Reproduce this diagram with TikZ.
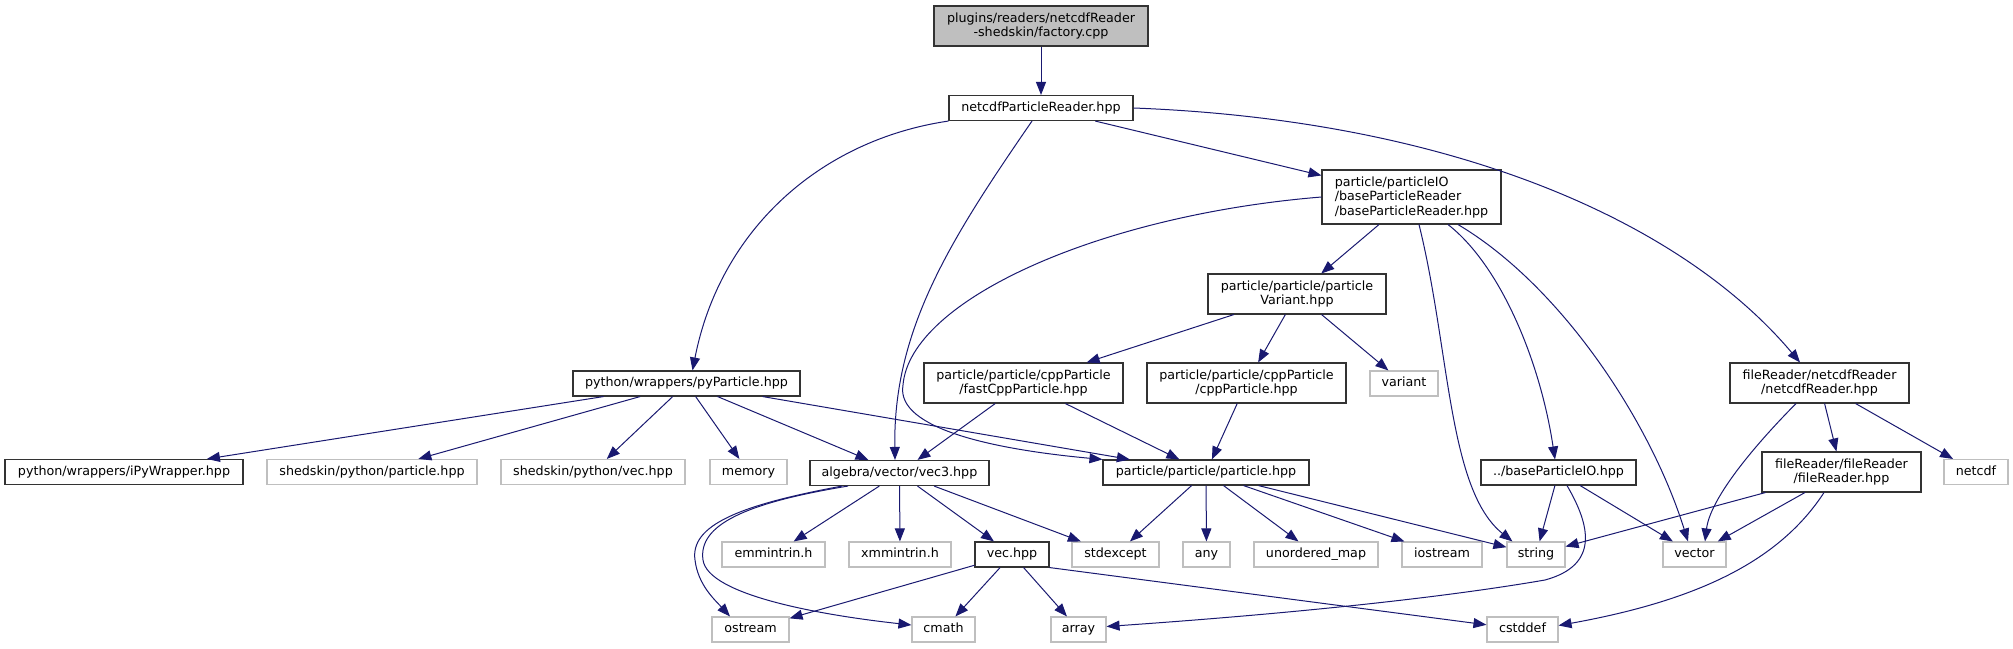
\documentclass[tikz,border=0pt]{standalone}
\usepackage{fontspec}
\setmainfont{DejaVu Sans}
\usepackage{tikz}
\usetikzlibrary{arrows.meta}

\definecolor{edgeblue}{HTML}{191970}
\definecolor{extgray}{HTML}{BFBFBF}

\tikzset{
  box/.style={draw=black!80, line width=1.1pt, inner sep=0pt, font=\fontsize{12.7}{14.5}\selectfont},
  file/.style={box, minimum height=25pt, text height=9.6pt, text depth=3pt},
  file2/.style={box, minimum height=40pt, align=center},
  ext/.style={file, draw=extgray},
  inc/.style={edgeblue, line width=1pt, -{Triangle[length=13pt,width=10pt]}}
}

\begin{document}
\begin{tikzpicture}[x=1pt, y=-1pt]
\useasboundingbox (0,0) rectangle (2013,648);

% Top files
\node[file2, fill=extgray, minimum width=214pt] (factory) at (1041,26) {plugins/readers/netcdfReader\\-shedskin/factory.cpp};
\node[file, minimum width=184pt] (ncpr) at (1041,108) {netcdfParticleReader.hpp};
\node[box, minimum width=179pt, minimum height=54pt, align=left] (bpr) at (1411.5,197) {particle/particleIO\\/baseParticleReader\\/baseParticleReader.hpp};
\node[file2, minimum width=178pt] (pv) at (1297,294) {particle/particle/particle\\Variant.hpp};

% Row 383
\node[file, minimum width=227pt] (pyp) at (686.5,383.5) {python/wrappers/pyParticle.hpp};
\node[file2, minimum width=199pt] (fcp) at (1023.5,383) {particle/particle/cppParticle\\/fastCppParticle.hpp};
\node[file2, minimum width=199pt] (cp) at (1246.5,383) {particle/particle/cppParticle\\/cppParticle.hpp};
\node[ext, minimum width=68pt] (variant) at (1404,383.5) {variant};
\node[file2, minimum width=179pt] (ncr) at (1819.5,383) {fileReader/netcdfReader\\/netcdfReader.hpp};

% Row 472
\node[file, minimum width=238pt] (ipw) at (124,472) {python/wrappers/iPyWrapper.hpp};
\node[ext, minimum width=210pt] (shp) at (372,472) {shedskin/python/particle.hpp};
\node[ext, minimum width=184pt] (shv) at (593,472) {shedskin/python/vec.hpp};
\node[ext, minimum width=77pt] (memory) at (748.5,472) {memory};
\node[file, minimum width=179pt] (vec3) at (899.5,473) {algebra/vector/vec3.hpp};
\node[file, minimum width=206pt] (particle) at (1206,472.5) {particle/particle/particle.hpp};
\node[file, minimum width=155pt] (bpio) at (1558.5,472.5) {../baseParticleIO.hpp};
\node[file2, minimum width=159pt] (fr) at (1841.5,472) {fileReader/fileReader\\/fileReader.hpp};
\node[ext, minimum width=64pt] (netcdf) at (1976,472) {netcdf};

% Row 554 (system headers)
\node[file, minimum width=74pt] (vech) at (1012,554.5) {vec.hpp};
\foreach \n/\x/\w/\t in {emm/773.5/103/emmintrin.h, xmm/900/102/xmmintrin.h,
    stdexcept/1115.5/87/stdexcept, any/1206.5/47/any, umap/1316/124/unordered\_map,
    iostream/1442/80/iostream, string/1536/58/string, vector/1694.5/63/vector}
  \node[ext, minimum width=\w pt] (\n) at (\x,554.5) {\t};

% Row 629
\foreach \n/\x/\w/\t in {ostream/750.5/77/ostream, cmath/943.5/63/cmath,
    array/1078.5/55/array, cstddef/1522.5/71/cstddef}
  \node[ext, minimum width=\w pt] (\n) at (\x,629.5) {\t};

% Straight includes
\foreach \a/\b in {factory/ncpr, ncpr/bpr, bpr/pv, pv/fcp, pv/cp, pv/variant,
    ncr/fr, ncr/netcdf, fcp/vec3, fcp/particle, cp/particle,
    pyp/ipw, pyp/shp, pyp/shv, pyp/memory, pyp/vec3, pyp/particle,
    vec3/emm, vec3/xmm, vec3/vech, vec3/stdexcept,
    particle/stdexcept, particle/any, particle/umap, particle/iostream, particle/string,
    bpio/string, bpio/vector, vech/ostream, vech/cmath, vech/array, fr/string, fr/vector}
  \draw[inc] (\a) -- (\b);
\draw[inc] (vech.south east) -- (cstddef);

% Curved includes
\draw[inc] (ncpr.south west) .. controls (820,140) and (720,230) .. ([xshift=6pt]pyp.north);
\draw[inc] ([xshift=-9pt]ncpr.south) .. controls (950,240) and (893,330) .. ([xshift=-4.5pt]vec3.north);
\draw[inc] (ncpr.east) .. controls (1450,120) and (1680,220) .. ([xshift=-19.5pt]ncr.north);
\draw[inc] (bpr.west) .. controls (1100,215) and (910,300) .. (903,385) .. controls (895,430) and (1000,450) .. (particle.north west);
\draw[inc] ([xshift=7.5pt]bpr.south) .. controls (1450,350) and (1448,490) .. ([xshift=6pt]string.north west);
\draw[inc] ([xshift=36.5pt]bpr.south) .. controls (1500,265) and (1540,360) .. ([xshift=-3.5pt]bpio.north);
\draw[inc] ([xshift=46.5pt]bpr.south) .. controls (1560,285) and (1650,420) .. ([xshift=-6.5pt]vector.north);
\draw[inc] ([xshift=-23.5pt]ncr.south) .. controls (1750,450) and (1710,500) .. ([xshift=10.5pt]vector.north);
\draw[inc] ([xshift=-57.5pt]vec3.south) .. controls (740,505) and (690,525) .. (695,560) .. controls (698,585) and (715,600) .. ([xshift=-20.5pt]ostream.north);
\draw[inc] ([xshift=-51.5pt]vec3.south) .. controls (745,503) and (698,525) .. (703,560) .. controls (708,595) and (820,615) .. ([yshift=4.5pt]cmath.west);
\draw[inc] ([xshift=8.5pt]bpio.south) .. controls (1590,525) and (1600,565) .. (1545,580) .. controls (1400,605) and (1200,620) .. ([yshift=3pt]array.east);
\draw[inc] ([xshift=-17.5pt]fr.south) .. controls (1780,560) and (1700,600) .. ([yshift=4pt]cstddef.east);
\end{tikzpicture}
\end{document}
